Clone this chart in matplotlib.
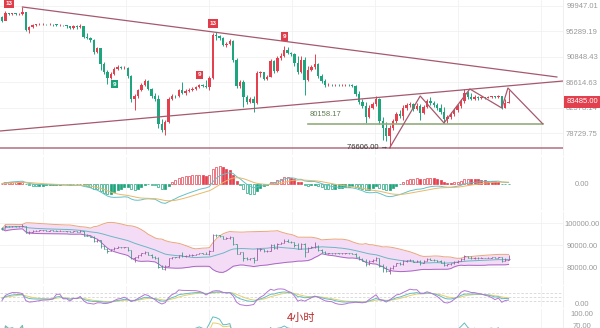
import numpy as np
import pandas as pd
import matplotlib
matplotlib.use('Agg')
import matplotlib.pyplot as plt
from matplotlib.ticker import NullLocator, FixedLocator, FixedFormatter
from matplotlib.transforms import blended_transform_factory

plt.rcParams['font.family'] = ['Liberation Sans', 'DejaVu Sans', 'Noto Sans CJK SC']

# 4h candles (open = previous close)
first_open = 97890
close = [97159, 98625, 98440, 98533, 98440, 98440, 98809, 95531, 96070, 96429,
         96520, 96612, 96612, 96520, 96612, 96520, 96429, 96429, 96339, 96250,
         95890, 96250, 96070, 96250, 94289, 94112, 93760, 91677, 92369, 89640,
         88307, 87321, 87980, 88801, 89136, 88969, 89052, 87651, 83956, 84424,
         85382, 86178, 86828, 85541, 84424, 83956, 80116, 79218, 80415, 83956,
         84424, 84346, 85382, 84901, 85222, 85382, 85541, 85860, 86178, 86019,
         85860, 87321, 94641, 94465, 94112, 92893, 93066, 93587, 90320, 86019,
         86665, 84268, 83485, 83956, 83328, 88143, 88307, 87155, 87486, 90150,
         88470, 90657, 90994, 92020, 91505, 91334, 89810, 88307, 90320, 86990,
         88634, 89136, 89640, 87651, 86828, 86178, 86259, 86178, 86259, 86178,
         86178, 86259, 86178, 86019, 84740, 83485, 82858, 81172, 82549, 83170,
         83956, 80564, 79517, 78332, 79517, 80564, 81630, 81324, 82549, 83013,
         83170, 82395, 82858, 81782, 82704, 83643, 83328, 83013, 82549, 81935,
         80867, 81172, 81630, 82240, 82858, 83643, 84901, 84268, 83956, 84268,
         84112, 84190, 84112, 84268, 84346, 84268, 84424, 82549, 83328, 83485]
high = [98073, 98993, 98625, 98625, 98625, 98625, 99737, 98809, 96250, 96612,
        96612, 96794, 96794, 96612, 96703, 96612, 96612, 96612, 96429, 96429,
        96250, 96429, 96429, 96612, 96250, 94997, 94289, 93936, 92544, 92369,
        89980, 88634, 88307, 89136, 89470, 89303, 89303, 89136, 87816, 84740,
        85541, 86503, 87155, 86990, 85700, 84901, 84580, 80867, 80714, 84268,
        84740, 84580, 85541, 86665, 85541, 85700, 85860, 86019, 86340, 86340,
        86990, 87651, 94997, 95175, 94641, 94289, 93413, 93936, 93760, 90657,
        86990, 86990, 84580, 84268, 84424, 88470, 88470, 88143, 87816, 90488,
        90320, 90994, 91505, 92718, 92544, 91677, 91505, 90994, 90994, 90825,
        89303, 89470, 91334, 89810, 87980, 87155, 86503, 86340, 86422, 86340,
        86340, 86340, 86340, 86340, 86178, 85222, 83956, 83485, 83013, 83485,
        84424, 84112, 81172, 80415, 79966, 80867, 81935, 82240, 83013, 83328,
        83485, 83328, 83328, 83170, 83013, 83956, 84268, 83643, 83328, 83170,
        82704, 81477, 81935, 82549, 83170, 83956, 85541, 85222, 84901, 84580,
        84424, 84424, 84268, 84424, 84424, 84424, 84580, 84424, 83956, 85382]
low = [96977, 97707, 98256, 98256, 98256, 98256, 98256, 95353, 94997, 95890,
       96250, 96429, 96429, 96429, 96429, 96250, 96250, 96250, 96250, 95890,
       95711, 95711, 95711, 95890, 94112, 93936, 93413, 91334, 91505, 88634,
       87980, 86340, 87155, 87816, 88634, 88801, 88801, 87321, 83485, 82240,
       84112, 85222, 86019, 85382, 84112, 83643, 79517, 78922, 78478, 80265,
       83800, 84112, 84268, 84740, 84580, 85061, 85222, 85382, 85700, 85860,
       85700, 85382, 87155, 93760, 93760, 92718, 92544, 92893, 89980, 85700,
       85700, 82704, 83170, 83328, 81935, 83170, 87486, 86990, 86990, 87486,
       88143, 88307, 90320, 90825, 91334, 90994, 89303, 87980, 88143, 84580,
       86828, 88470, 88801, 87321, 86503, 85860, 86019, 86019, 86019, 86019,
       86019, 86019, 86019, 85860, 84424, 83170, 82549, 80265, 81019, 82395,
       82858, 80116, 77746, 77601, 76606, 79218, 80265, 81019, 80714, 82240,
       82704, 82087, 82240, 80714, 81630, 82549, 83013, 82704, 82240, 81630,
       80265, 80265, 80867, 81324, 81935, 82549, 83328, 83956, 83800, 83800,
       83800, 83956, 83956, 84112, 84112, 84112, 84112, 82395, 82549, 83328]

price_ticks = [99947.01, 95289.19, 90848.43, 86614.63, 82578.14, 78729.75]
boll_ticks = [100000, 90000, 80000]
last_price = 83485.00
support_low = 76606.00
neckline = 80158.17
neck_span = [90, 159]

# drawing tools
upper_trend_i = [6, 163.2]
upper_trend_p = [99737, 87486]
lower_trend_i = [-0.6, 165]
lower_trend_p = [79070, 86828]
zigzag_i = [114, 123, 130, 137.6, 147, 148.8, 159]
zigzag_p = [76606, 84424, 80265, 85541, 82549, 85700, 80158.17]

# TD sequential counts: (bar, text, side)
td_marks = [(2, '13', 'sell'), (33, '9', 'buy'), (58, '9', 'sell'),
            (62, '13', 'sell'), (83, '9', 'sell')]

UP = '#e5404f'
DOWN = '#1fa57d'
TREND = '#a5596e'
AXIS_TXT = '#9a9a9a'
GRID = '#f1f1f1'

W, H = 600, 328
X_END = 563
n = len(close)
idx = np.arange(n)
c = pd.Series(close, dtype=float)
o = pd.Series(np.r_[first_open, close[:-1]], dtype=float)
hi = pd.Series(high, dtype=float)
lo = pd.Series(low, dtype=float)

# indicators
ema12 = c.ewm(span=12, adjust=False).mean()
ema26 = c.ewm(span=26, adjust=False).mean()
dif = ema12 - ema26
dea = dif.ewm(span=9, adjust=False).mean()
macd = 2 * (dif - dea)

mid = c.rolling(20, min_periods=1).mean()
sd = c.rolling(20, min_periods=1).std(ddof=0).fillna(0)
ub, lb = mid + 2 * sd, mid - 2 * sd

llv = lo.rolling(9, min_periods=1).min()
hhv = hi.rolling(9, min_periods=1).max()
rsv = ((c - llv) / (hhv - llv) * 100).fillna(50)
K, D = [], []
k_prev, d_prev = 50.0, 50.0
for v in rsv:
    k_prev = 2 / 3 * k_prev + v / 3
    d_prev = 2 / 3 * d_prev + k_prev / 3
    K.append(k_prev)
    D.append(d_prev)
K, D = np.array(K), np.array(D)
J = 3 * K - 2 * D

delta = c - o
gain, loss = delta.clip(lower=0), (-delta).clip(lower=0)


def rsi(p):
    g = gain.ewm(alpha=1 / p).mean()
    l = loss.ewm(alpha=1 / p).mean()
    return 100 * g / (g + l)


fig = plt.figure(figsize=(W / 100, H / 100), dpi=100)


def panel(top, bot):
    ax = fig.add_axes([0, 1 - bot / H, X_END / W, (bot - top) / H])
    ax.set_xlim(-0.6, 165)
    for s in ['top', 'left', 'bottom']:
        ax.spines[s].set_visible(False)
    ax.spines['right'].set_color('#ececec')
    ax.spines['right'].set_linewidth(0.6)
    ax.xaxis.set_major_locator(FixedLocator(np.arange(12, 165, 24.4)))
    ax.tick_params(axis='x', length=0, labelbottom=False)
    ax.grid(True, color=GRID, lw=0.6)
    ax.set_axisbelow(True)
    ax.yaxis.tick_right()
    ax.tick_params(axis='y', length=0, pad=13.7, labelsize=5.5, labelcolor=AXIS_TXT)
    return ax


def set_ticks(ax, vals, fmt='{:.2f}'):
    ax.yaxis.set_major_locator(FixedLocator(vals))
    ax.yaxis.set_minor_locator(NullLocator())
    ax.yaxis.set_major_formatter(FixedFormatter([fmt.format(v) for v in vals]))
    for t in ax.get_yticklabels():
        t.set_horizontalalignment('center')


# price panel
ax = panel(0, 155)
ax.set_yscale('log')
ax.set_ylim(75595, 101050)
set_ticks(ax, price_ticks)
up = (c >= o).values
cols = np.where(up, UP, DOWN)
ax.vlines(idx, lo, hi, colors=cols, lw=0.7, zorder=2)
body_lo = np.minimum(o, c)
body_h = np.maximum(np.abs(c - o), 40)
ax.bar(idx, body_h, bottom=body_lo, width=0.68, color=cols, lw=0, zorder=3)

ax.plot(upper_trend_i, upper_trend_p, color=TREND, lw=0.9, zorder=4)
ax.plot(lower_trend_i, lower_trend_p, color=TREND, lw=0.9, zorder=4)
ax.axhline(support_low, color='#b07080', lw=1.1, zorder=4)
ax.plot(neck_span, [neckline, neckline], color='#93ad7e', lw=1.2, zorder=4)
ax.plot(zigzag_i, zigzag_p, color=TREND, lw=0.9, zorder=4)

ax.annotate(f'{neckline:.2f}', (neck_span[0], neckline), xytext=(1, 4),
            textcoords='offset points', fontsize=5.5, color='#5f7d4f',
            ha='left', va='bottom')
ax.annotate(f'{support_low:.2f} \u2192', (113.5, support_low), xytext=(0, 0),
            textcoords='offset points', fontsize=5.5, color='#333333',
            ha='right', va='center', zorder=5)

for i, txt, side in td_marks:
    if side == 'sell':
        xy, dy, fc, va = (i, high[i]), 5, '#e03c4a', 'bottom'
    else:
        xy, dy, fc, va = (i, low[i]), -5, '#1aa37a', 'top'
    ax.annotate(txt, xy, xytext=(0, dy), textcoords='offset points',
                ha='center', va=va, fontsize=4.5, color='white', weight='bold',
                bbox=dict(boxstyle='square,pad=0.25', fc=fc, ec='none'), zorder=6)

tr = blended_transform_factory(ax.transAxes, ax.transData)
ax.text(582 / X_END, last_price, f'{last_price:.2f}', transform=tr,
        ha='center', va='center', fontsize=5.5, color='white', clip_on=False,
        bbox=dict(boxstyle='square,pad=0.3', fc='#e2404e', ec='none'), zorder=10)

# MACD
ax = panel(157, 210)
m = np.abs(dif).max() / 0.75
ax.set_ylim(-m, m)
set_ticks(ax, [0])
ax.grid(False, axis='y')
prev_h = np.r_[0, macd.values[:-1]]
for i in idx:
    v = macd[i]
    col = UP if v >= 0 else DOWN
    hollow = (v >= 0 and v > prev_h[i]) or (v < 0 and v < prev_h[i])
    ax.bar(i, v, width=0.62, color='white' if hollow else col,
           edgecolor=col, lw=0.5, zorder=2)
ax.plot(idx, dif, color='#63c1c8', lw=0.7, zorder=3)
ax.plot(idx, dea, color='#e8b86a', lw=0.7, zorder=3)

# Bollinger
ax = panel(212, 284)
ax.set_ylim(72273, 105000)
set_ticks(ax, boll_ticks)
ax.fill_between(idx, lb, ub, color='#f4dcf6', lw=0, zorder=1)
ax.plot(idx, ub, color='#e9a77a', lw=0.7, zorder=2)
ax.plot(idx, lb, color='#a866c4', lw=0.7, zorder=2)
ax.plot(idx, mid, color='#6ab7c5', lw=0.7, zorder=2)
bcol = np.where(up, '#9a5aa0', '#3f9a86')
ax.vlines(idx, lo, hi, colors=bcol, lw=0.6, zorder=3)
ax.hlines(o, idx - 0.35, idx, colors=bcol, lw=0.6, zorder=3)
ax.hlines(c, idx, idx + 0.35, colors=bcol, lw=0.6, zorder=3)

# KDJ
ax = panel(286, 307)
ax.set_ylim(-25, 132.5)
set_ticks(ax, [0])
ax.grid(False, axis='y')
for lvl in [80, 50, 20]:
    ax.axhline(lvl, color='#d6d6d6', lw=0.6, ls=(0, (3, 2)), xmax=1.0, zorder=1)
ax.plot(idx, D, color='#e6cf6c', lw=0.7, zorder=2)
ax.plot(idx, K, color='#63bcc4', lw=0.7, zorder=2)
ax.plot(idx, J, color='#b276d2', lw=0.7, zorder=2)

# RSI
ax = panel(309, 349)
ax.set_ylim(12.5, 112.5)
set_ticks(ax, [100, 70])
ax.grid(False, axis='y')
ax.plot(idx, rsi(24), color='#b276d2', lw=0.7)
ax.plot(idx, rsi(12), color='#e6cf6c', lw=0.7)
ax.plot(idx, rsi(6), color='#63bcc4', lw=0.7)

fig.text(301 / W, 1 - 318 / H, '4小时', color='#b8282a', fontsize=8,
         family=['Noto Sans CJK SC', 'DejaVu Sans'], ha='center', va='center')

fig.savefig('out.png', dpi=100)
